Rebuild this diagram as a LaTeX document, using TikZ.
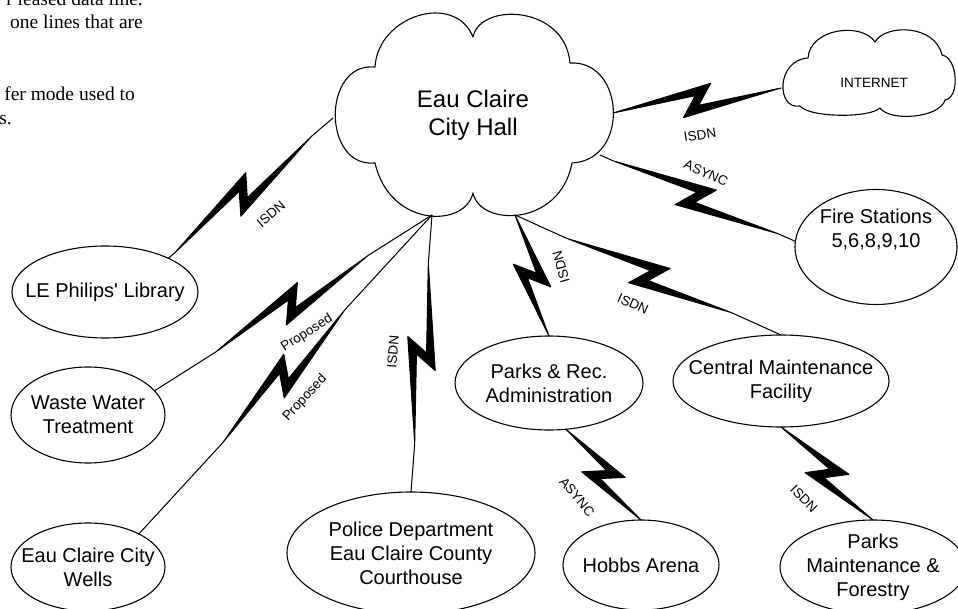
\documentclass[tikz,border=0pt]{standalone}
\usepackage{fontspec}
\setmainfont{Liberation Sans}
\newfontfamily\serifface{Liberation Serif}
\usetikzlibrary{calc,shapes.geometric}
% lightning-bolt link: #1 = start, #2 = end, #3 = position of the zigzag (fraction)
\newcommand\zbolt[3]{%
  \draw[boltline] let \p1=($(#2)-(#1)$), \n1={atan2(\y1,\x1)}, \n2={veclen(\x1,\y1)},
    \n3={#3*\n2}, \n4={max(\n3-90,0)}, \n5={min(\n3+90,\n2)} in
    [shift={(#1)}, rotate=\n1]
    (0,0) -- (\n4,0) (\n5,0) -- (\n2,0)
    (\n4,0) -- (\n3+16,-15) -- (\n3+1,5) -- (\n5,0) -- (\n3-16,15) -- (\n3-1,-5) -- cycle;
}
\begin{document}
\begin{tikzpicture}[x=1pt,y=-1pt,
  cloudline/.style={draw=black, line width=1.1pt, line join=round},
  ellnode/.style={ellipse, draw=black, line width=1.1pt, inner sep=0pt, outer sep=0pt},
  etext/.style={font=\fontsize{20}{24}\selectfont, align=center, inner sep=0pt},
  boltline/.style={draw=black, fill=black, line width=1pt, line join=round},
  blabel/.style={font=\fontsize{13.5}{15}\selectfont, inner sep=0pt},
  notetext/.style={font=\serifface\fontsize{19.5}{23}\selectfont, inner sep=0pt}]
\useasboundingbox (0,0) rectangle (958,609);
\begin{scope}
\clip (0,0) rectangle (958,609);
\fill[white] (0,0) rectangle (958,609);

% note text fragments (cut at the picture edge)
\node[notetext, anchor=base east] (n1) at (143,6) {r leased data line.};
\node[notetext, anchor=base east] (n2) at (143,29) {one lines that are};
\node[notetext, anchor=base east] (n3) at (135,101) {fer mode used to};
\node[notetext, anchor=base east] (n4) at (12,125) {s.};

% City Hall cloud
\draw[cloudline] (375,163) .. controls (322,168) and (322,62) .. (375,67)
  .. controls (378,15) and (455,-8) .. (473,37)
  .. controls (480,2) and (565,5) .. (570,63)
  .. controls (625,60) and (630,160) .. (572,163)
  .. controls (560,227) and (480,227) .. (473,193)
  .. controls (465,228) and (390,228) .. (375,163) -- cycle;
\node[font=\fontsize{24}{28}\selectfont, align=center, inner sep=0pt] (ch) at (473,115) {Eau Claire\\City Hall};
\coordinate (chW) at (333,118);
\coordinate (chE) at (613,113);
\coordinate (chSE) at (600,155);
\coordinate (chS1) at (515,215);
\coordinate (chS2) at (432,215);

% Internet cloud
\draw[cloudline] (800,106) .. controls (776,110) and (776,60) .. (808,58)
  .. controls (810,28) and (862,22) .. (875,42)
  .. controls (885,24) and (935,24) .. (942,55)
  .. controls (958,58) and (960,98) .. (945,100)
  .. controls (940,118) and (890,122) .. (880,108)
  .. controls (870,118) and (810,118) .. (800,106) -- cycle;
\node[blabel] (inet) at (874,83) {INTERNET};
\coordinate (inW) at (781,88);

% sites
\node[ellnode, minimum width=186pt, minimum height=92pt, label={[etext]center:{LE Philips\textquotesingle\ Library}}] (lib) at (105,292) {};
\node[ellnode, minimum width=154pt, minimum height=96pt, label={[etext]center:{Waste Water\\Treatment}}] (ww) at (88,415) {};
\node[ellnode, minimum width=154pt, minimum height=88pt, label={[etext]center:{Eau Claire City\\Wells}}] (wells) at (88,567) {};
\node[ellnode, minimum width=248pt, minimum height=122pt, label={[etext]center:{Police Department\\Eau Claire County\\Courthouse}}] (pol) at (411,553) {};
\node[ellnode, minimum width=188pt, minimum height=94pt, label={[etext]center:{Parks \& Rec.\\Administration}}] (parks) at (549,383) {};
\node[ellnode, minimum width=216pt, minimum height=92pt, label={[etext]center:{Central Maintenance\\Facility}}] (cmf) at (781,381) {};
\node[ellnode, minimum width=156pt, minimum height=90pt, label={[etext]center:{Hobbs Arena}}] (hob) at (641,565) {};
\node[ellnode, minimum width=186pt, minimum height=94pt, label={[etext]center:{Parks\\Maintenance \&\\Forestry}}] (pmf) at (873,567) {};
\node[ellnode, minimum width=162pt, minimum height=115pt, label={[etext, yshift=17pt]center:{Fire Stations\\5,6,8,9,10}}] (fire) at (876,247) {};

% links
\zbolt{chW}{lib.28}{0.545}
\zbolt{chE}{inW}{0.5}
\zbolt{chSE}{fire.176}{0.49}
\zbolt{chS1}{parks.north}{0.5}
\zbolt{chS1}{cmf.north}{0.505}
\zbolt{chS2}{pol.north}{0.5}
\zbolt{chS2}{ww.20}{0.505}
\zbolt{chS2}{wells.33}{0.505}
\zbolt{parks.-70}{hob.north}{0.5}
\zbolt{cmf.south}{pmf.north}{0.5}

% link labels
\node[blabel, rotate=40.7] (l1) at (271,214) {ISDN};
\node[blabel, rotate=8.5] (l2) at (700,135) {ISDN};
\node[blabel, rotate=-24.8] (l3) at (706,173) {ASYNC};
\node[blabel, rotate=105.7] (l4) at (561,267) {ISDN};
\node[blabel, rotate=-24.5] (l5) at (633,304) {ISDN};
\node[blabel, rotate=85.7] (l6) at (393,352) {ISDN};
\node[blabel, rotate=32.3] (l7) at (307,333) {Proposed};
\node[blabel, rotate=47.4] (l8) at (305,398) {Proposed};
\node[blabel, rotate=-50.5] (l9) at (577,497) {ASYNC};
\node[blabel, rotate=-45.6] (l10) at (804,499) {ISDN};
\end{scope}
\end{tikzpicture}
\end{document}
